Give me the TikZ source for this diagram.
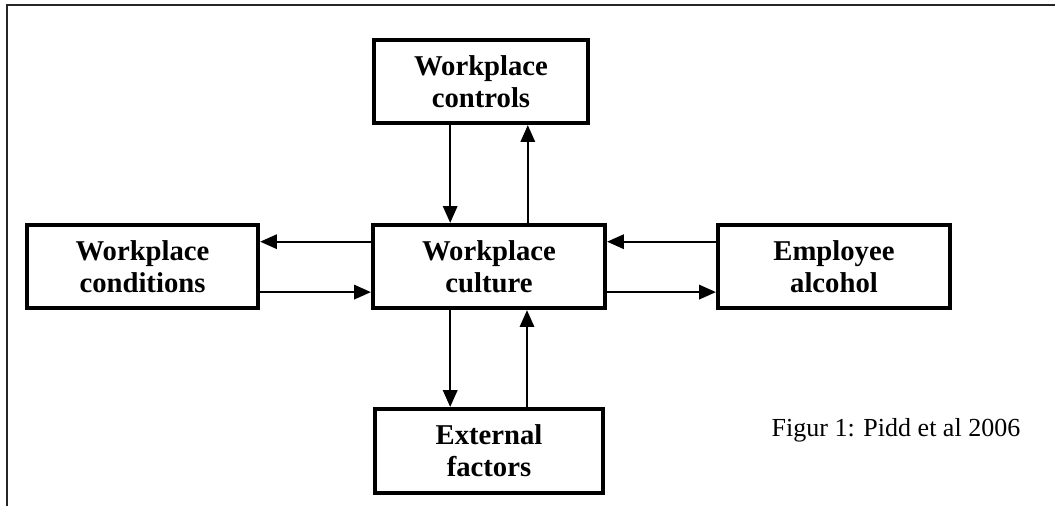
\documentclass[tikz,border=0pt]{standalone}
\usepackage{fontspec}
\setmainfont{Liberation Serif}
\usetikzlibrary{arrows.meta}

\tikzset{
  factorbox/.style={draw,line width=2.9pt,minimum height=2.08cm,align=center,
    font=\fontsize{20.4}{23}\selectfont\bfseries},
  link/.style={line width=1.4pt,-{Triangle[length=0.42cm,width=0.36cm]}}
}

\begin{document}
\begin{tikzpicture}
  [x=0.025cm,y=-0.025cm]
  \useasboundingbox (0,0) rectangle (1055,506);
  % frame
  \draw[line width=2pt,gray!30!black] (7,506) -- (7,5) -- (1055,5);

  \node[factorbox,minimum width=5.35cm] (controls) at (481,81.5) {Workplace\\controls};
  \node[factorbox,minimum width=5.8cm] (culture) at (489,266.5) {Workplace\\culture};
  \node[factorbox,minimum width=5.78cm] (conditions) at (142.5,266.5) {Workplace\\conditions};
  \node[factorbox,minimum width=5.8cm] (alcohol) at (834,266.5) {Employee\\alcohol};
  \node[factorbox,minimum width=5.7cm,minimum height=2.1cm] (factors) at (489,451) {External\\factors};
  \node[font=\fontsize{18.5}{22}\selectfont] (caption) at (896,430) {Figur 1: Pidd et al 2006};

  \draw[link] ([xshift=-0.97cm]culture.north |- controls.south) -- ([xshift=-0.97cm]culture.north);
  \draw[link] ([xshift=0.97cm]culture.north) -- ([xshift=0.97cm]culture.north |- controls.south);
  \draw[link] ([yshift=0.62cm]culture.west) -- ([yshift=0.62cm]conditions.east);
  \draw[link] ([yshift=-0.64cm]conditions.east) -- ([yshift=-0.64cm]culture.west);
  \draw[link] ([yshift=0.62cm]alcohol.west) -- ([yshift=0.62cm]culture.east);
  \draw[link] ([yshift=-0.64cm]culture.east) -- ([yshift=-0.64cm]alcohol.west);
  \draw[link] ([xshift=-0.97cm]culture.south) -- ([xshift=-0.97cm]culture.south |- factors.north);
  \draw[link] ([xshift=0.95cm]culture.south |- factors.north) -- ([xshift=0.95cm]culture.south);
\end{tikzpicture}
\end{document}
